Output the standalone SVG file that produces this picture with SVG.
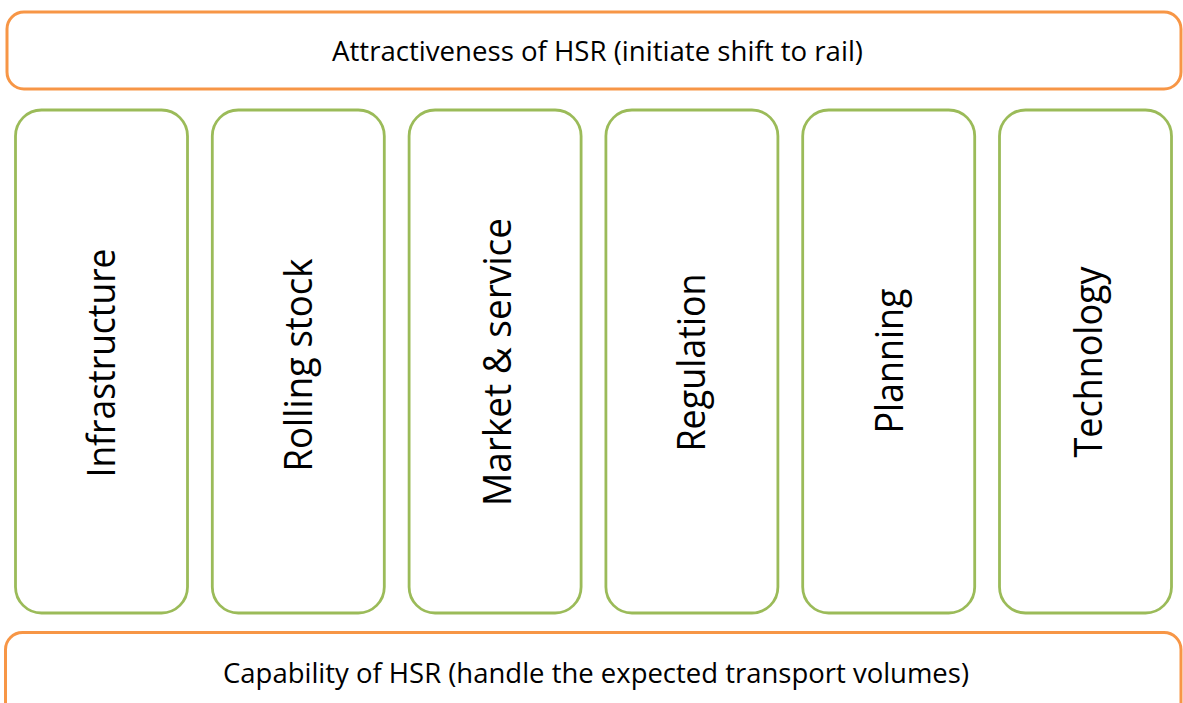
<svg xmlns="http://www.w3.org/2000/svg" width="1183" height="703" viewBox="0 0 1183 703">
  <style>
    .band { fill: #ffffff; stroke: #F79646; stroke-width: 3; }
    .pillar { fill: #ffffff; stroke: #9BBB59; stroke-width: 2.8; }
    .label { font-family: "Open Sans", "Liberation Sans", sans-serif; fill: #000000; text-anchor: middle; }
    .band-label { font-size: 27px; }
    .pillar-label { font-size: 38px; }
  </style>
  <rect width="1183" height="703" fill="#ffffff"/>

  <!-- top band -->
  <g id="attractiveness">
    <rect class="band" x="7" y="12" width="1174" height="77" rx="17" ry="17"/>
    <text class="label band-label" x="597.5" y="61" textLength="531" lengthAdjust="spacingAndGlyphs">Attractiveness of HSR (initiate shift to rail)</text>
  </g>

  <!-- six pillars -->
  <g id="infrastructure">
    <rect class="pillar" x="15.5" y="110" width="172" height="503" rx="26" ry="26"/>
    <text class="label pillar-label" transform="translate(115 363) rotate(-90)" textLength="229" lengthAdjust="spacingAndGlyphs">Infrastructure</text>
  </g>
  <g id="rolling-stock">
    <rect class="pillar" x="212.3" y="110" width="172" height="503" rx="26" ry="26"/>
    <text class="label pillar-label" transform="translate(311.7 365) rotate(-90)" textLength="213" lengthAdjust="spacingAndGlyphs">Rolling stock</text>
  </g>
  <g id="market-service">
    <rect class="pillar" x="409.1" y="110" width="172" height="503" rx="26" ry="26"/>
    <text class="label pillar-label" transform="translate(510.5 362) rotate(-90)" textLength="288" lengthAdjust="spacingAndGlyphs">Market &amp; service</text>
  </g>
  <g id="regulation">
    <rect class="pillar" x="605.9" y="110" width="172" height="503" rx="26" ry="26"/>
    <text class="label pillar-label" transform="translate(705 362.5) rotate(-90)" textLength="178" lengthAdjust="spacingAndGlyphs">Regulation</text>
  </g>
  <g id="planning">
    <rect class="pillar" x="802.7" y="110" width="172" height="503" rx="26" ry="26"/>
    <text class="label pillar-label" transform="translate(903.3 361) rotate(-90)" textLength="145" lengthAdjust="spacingAndGlyphs">Planning</text>
  </g>
  <g id="technology">
    <rect class="pillar" x="999.5" y="110" width="172" height="503" rx="26" ry="26"/>
    <text class="label pillar-label" transform="translate(1101.5 362) rotate(-90)" textLength="191" lengthAdjust="spacingAndGlyphs">Technology</text>
  </g>

  <!-- bottom band -->
  <g id="capability">
    <rect class="band" x="5.5" y="632.5" width="1175.5" height="100" rx="17" ry="17"/>
    <text class="label band-label" x="596" y="682.5" textLength="746" lengthAdjust="spacingAndGlyphs">Capability of HSR (handle the expected transport volumes)</text>
  </g>

  <!-- no connectors in this layout -->
  <g id="connectors"/>
</svg>
